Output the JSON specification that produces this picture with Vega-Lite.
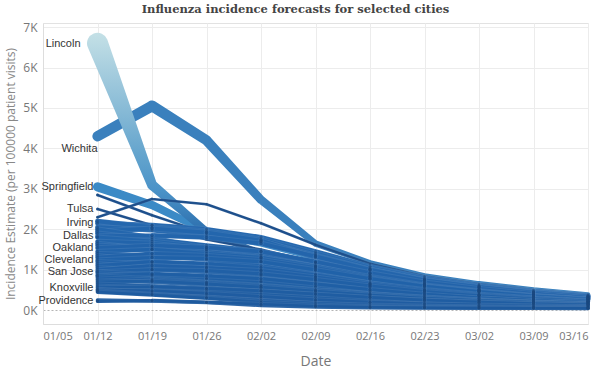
{
"$schema": "https://vega.github.io/schema/vega-lite/v6.json",
"width": 545, "height": 301,
"autosize": {"type": "none"},
"padding": {"left": 43, "top": 23, "right": 8, "bottom": 51},
"background": "white",
"title": {"text": "Influenza incidence forecasts for selected cities", "font": "DejaVu Serif", "fontSize": 11.5, "fontWeight": "bold", "color": "#444", "offset": 6, "dx": -20},
"config": {"view": {"stroke": "#e2e2e2"}},
"datasets": {"flu": [
{"city":"Lincoln","date":"2014-01-12","value":6600},{"city":"Lincoln","date":"2014-01-19","value":3100},{"city":"Lincoln","date":"2014-01-26","value":1950},{"city":"Lincoln","date":"2014-02-02","value":1400},{"city":"Lincoln","date":"2014-02-09","value":1000},{"city":"Lincoln","date":"2014-02-16","value":700},{"city":"Lincoln","date":"2014-02-23","value":500},{"city":"Lincoln","date":"2014-03-02","value":370},{"city":"Lincoln","date":"2014-03-09","value":280},{"city":"Lincoln","date":"2014-03-16","value":210},
{"city":"Wichita","date":"2014-01-12","value":4300},{"city":"Wichita","date":"2014-01-19","value":5050},{"city":"Wichita","date":"2014-01-26","value":4200},{"city":"Wichita","date":"2014-02-02","value":2730},{"city":"Wichita","date":"2014-02-09","value":1650},{"city":"Wichita","date":"2014-02-16","value":1170},{"city":"Wichita","date":"2014-02-23","value":850},{"city":"Wichita","date":"2014-03-02","value":660},{"city":"Wichita","date":"2014-03-09","value":510},{"city":"Wichita","date":"2014-03-16","value":390},
{"city":"Springfield","date":"2014-01-12","value":3050},{"city":"Springfield","date":"2014-01-19","value":2600},{"city":"Springfield","date":"2014-01-26","value":1950},{"city":"Springfield","date":"2014-02-02","value":1650},{"city":"Springfield","date":"2014-02-09","value":1300},{"city":"Springfield","date":"2014-02-16","value":980},{"city":"Springfield","date":"2014-02-23","value":720},{"city":"Springfield","date":"2014-03-02","value":550},{"city":"Springfield","date":"2014-03-09","value":420},{"city":"Springfield","date":"2014-03-16","value":320},
{"city":"Omaha","date":"2014-01-12","value":2850},{"city":"Omaha","date":"2014-01-19","value":2350},{"city":"Omaha","date":"2014-01-26","value":1900},{"city":"Omaha","date":"2014-02-02","value":1700},{"city":"Omaha","date":"2014-02-09","value":1380},{"city":"Omaha","date":"2014-02-16","value":1020},{"city":"Omaha","date":"2014-02-23","value":760},{"city":"Omaha","date":"2014-03-02","value":580},{"city":"Omaha","date":"2014-03-09","value":440},{"city":"Omaha","date":"2014-03-16","value":340},
{"city":"Kansas City","date":"2014-01-12","value":2300},{"city":"Kansas City","date":"2014-01-19","value":2750},{"city":"Kansas City","date":"2014-01-26","value":2620},{"city":"Kansas City","date":"2014-02-02","value":2150},{"city":"Kansas City","date":"2014-02-09","value":1620},{"city":"Kansas City","date":"2014-02-16","value":1150},{"city":"Kansas City","date":"2014-02-23","value":840},{"city":"Kansas City","date":"2014-03-02","value":650},{"city":"Kansas City","date":"2014-03-09","value":500},{"city":"Kansas City","date":"2014-03-16","value":380},
{"city":"Tulsa","date":"2014-01-12","value":2500},{"city":"Tulsa","date":"2014-01-19","value":2100},{"city":"Tulsa","date":"2014-01-26","value":1750},{"city":"Tulsa","date":"2014-02-02","value":1500},{"city":"Tulsa","date":"2014-02-09","value":1180},{"city":"Tulsa","date":"2014-02-16","value":900},{"city":"Tulsa","date":"2014-02-23","value":670},{"city":"Tulsa","date":"2014-03-02","value":510},{"city":"Tulsa","date":"2014-03-09","value":390},{"city":"Tulsa","date":"2014-03-16","value":300},
{"city":"Irving","date":"2014-01-12","value":2150},{"city":"Irving","date":"2014-01-19","value":2100},{"city":"Irving","date":"2014-01-26","value":2000},{"city":"Irving","date":"2014-02-02","value":1800},{"city":"Irving","date":"2014-02-09","value":1450},{"city":"Irving","date":"2014-02-16","value":1080},{"city":"Irving","date":"2014-02-23","value":800},{"city":"Irving","date":"2014-03-02","value":610},{"city":"Irving","date":"2014-03-09","value":470},{"city":"Irving","date":"2014-03-16","value":360},
{"city":"Austin","date":"2014-01-12","value":2200},{"city":"Austin","date":"2014-01-19","value":2050},{"city":"Austin","date":"2014-01-26","value":1950},{"city":"Austin","date":"2014-02-02","value":1750},{"city":"Austin","date":"2014-02-09","value":1400},{"city":"Austin","date":"2014-02-16","value":1050},{"city":"Austin","date":"2014-02-23","value":780},{"city":"Austin","date":"2014-03-02","value":600},{"city":"Austin","date":"2014-03-09","value":460},{"city":"Austin","date":"2014-03-16","value":350},
{"city":"Houston","date":"2014-01-12","value":2050},{"city":"Houston","date":"2014-01-19","value":1980},{"city":"Houston","date":"2014-01-26","value":1850},{"city":"Houston","date":"2014-02-02","value":1700},{"city":"Houston","date":"2014-02-09","value":1350},{"city":"Houston","date":"2014-02-16","value":1010},{"city":"Houston","date":"2014-02-23","value":750},{"city":"Houston","date":"2014-03-02","value":580},{"city":"Houston","date":"2014-03-09","value":445},{"city":"Houston","date":"2014-03-16","value":340},
{"city":"Fort Worth","date":"2014-01-12","value":1950},{"city":"Fort Worth","date":"2014-01-19","value":2020},{"city":"Fort Worth","date":"2014-01-26","value":1920},{"city":"Fort Worth","date":"2014-02-02","value":1720},{"city":"Fort Worth","date":"2014-02-09","value":1300},{"city":"Fort Worth","date":"2014-02-16","value":970},{"city":"Fort Worth","date":"2014-02-23","value":720},{"city":"Fort Worth","date":"2014-03-02","value":555},{"city":"Fort Worth","date":"2014-03-09","value":425},{"city":"Fort Worth","date":"2014-03-16","value":325},
{"city":"Oklahoma City","date":"2014-01-12","value":2000},{"city":"Oklahoma City","date":"2014-01-19","value":1800},{"city":"Oklahoma City","date":"2014-01-26","value":1500},{"city":"Oklahoma City","date":"2014-02-02","value":1300},{"city":"Oklahoma City","date":"2014-02-09","value":1050},{"city":"Oklahoma City","date":"2014-02-16","value":800},{"city":"Oklahoma City","date":"2014-02-23","value":600},{"city":"Oklahoma City","date":"2014-03-02","value":470},{"city":"Oklahoma City","date":"2014-03-09","value":360},{"city":"Oklahoma City","date":"2014-03-16","value":280},
{"city":"San Antonio","date":"2014-01-12","value":1900},{"city":"San Antonio","date":"2014-01-19","value":1750},{"city":"San Antonio","date":"2014-01-26","value":1600},{"city":"San Antonio","date":"2014-02-02","value":1450},{"city":"San Antonio","date":"2014-02-09","value":1180},{"city":"San Antonio","date":"2014-02-16","value":900},{"city":"San Antonio","date":"2014-02-23","value":670},{"city":"San Antonio","date":"2014-03-02","value":520},{"city":"San Antonio","date":"2014-03-09","value":400},{"city":"San Antonio","date":"2014-03-16","value":310},
{"city":"Dallas","date":"2014-01-12","value":1830},{"city":"Dallas","date":"2014-01-19","value":1850},{"city":"Dallas","date":"2014-01-26","value":1800},{"city":"Dallas","date":"2014-02-02","value":1650},{"city":"Dallas","date":"2014-02-09","value":1330},{"city":"Dallas","date":"2014-02-16","value":1000},{"city":"Dallas","date":"2014-02-23","value":740},{"city":"Dallas","date":"2014-03-02","value":570},{"city":"Dallas","date":"2014-03-09","value":435},{"city":"Dallas","date":"2014-03-16","value":335},
{"city":"Milwaukee","date":"2014-01-12","value":1800},{"city":"Milwaukee","date":"2014-01-19","value":1700},{"city":"Milwaukee","date":"2014-01-26","value":1550},{"city":"Milwaukee","date":"2014-02-02","value":1380},{"city":"Milwaukee","date":"2014-02-09","value":1120},{"city":"Milwaukee","date":"2014-02-16","value":860},{"city":"Milwaukee","date":"2014-02-23","value":645},{"city":"Milwaukee","date":"2014-03-02","value":500},{"city":"Milwaukee","date":"2014-03-09","value":385},{"city":"Milwaukee","date":"2014-03-16","value":300},
{"city":"El Paso","date":"2014-01-12","value":1700},{"city":"El Paso","date":"2014-01-19","value":1650},{"city":"El Paso","date":"2014-01-26","value":1500},{"city":"El Paso","date":"2014-02-02","value":1350},{"city":"El Paso","date":"2014-02-09","value":1100},{"city":"El Paso","date":"2014-02-16","value":850},{"city":"El Paso","date":"2014-02-23","value":640},{"city":"El Paso","date":"2014-03-02","value":495},{"city":"El Paso","date":"2014-03-09","value":380},{"city":"El Paso","date":"2014-03-16","value":295},
{"city":"Denver","date":"2014-01-12","value":1650},{"city":"Denver","date":"2014-01-19","value":1500},{"city":"Denver","date":"2014-01-26","value":1350},{"city":"Denver","date":"2014-02-02","value":1200},{"city":"Denver","date":"2014-02-09","value":980},{"city":"Denver","date":"2014-02-16","value":760},{"city":"Denver","date":"2014-02-23","value":580},{"city":"Denver","date":"2014-03-02","value":450},{"city":"Denver","date":"2014-03-09","value":345},{"city":"Denver","date":"2014-03-16","value":270},
{"city":"Minneapolis","date":"2014-01-12","value":1600},{"city":"Minneapolis","date":"2014-01-19","value":1550},{"city":"Minneapolis","date":"2014-01-26","value":1450},{"city":"Minneapolis","date":"2014-02-02","value":1300},{"city":"Minneapolis","date":"2014-02-09","value":1080},{"city":"Minneapolis","date":"2014-02-16","value":840},{"city":"Minneapolis","date":"2014-02-23","value":630},{"city":"Minneapolis","date":"2014-03-02","value":485},{"city":"Minneapolis","date":"2014-03-09","value":370},{"city":"Minneapolis","date":"2014-03-16","value":285},
{"city":"Oakland","date":"2014-01-12","value":1540},{"city":"Oakland","date":"2014-01-19","value":1600},{"city":"Oakland","date":"2014-01-26","value":1550},{"city":"Oakland","date":"2014-02-02","value":1450},{"city":"Oakland","date":"2014-02-09","value":1200},{"city":"Oakland","date":"2014-02-16","value":920},{"city":"Oakland","date":"2014-02-23","value":690},{"city":"Oakland","date":"2014-03-02","value":530},{"city":"Oakland","date":"2014-03-09","value":405},{"city":"Oakland","date":"2014-03-16","value":310},
{"city":"Memphis","date":"2014-01-12","value":1450},{"city":"Memphis","date":"2014-01-19","value":1500},{"city":"Memphis","date":"2014-01-26","value":1400},{"city":"Memphis","date":"2014-02-02","value":1300},{"city":"Memphis","date":"2014-02-09","value":1080},{"city":"Memphis","date":"2014-02-16","value":830},{"city":"Memphis","date":"2014-02-23","value":620},{"city":"Memphis","date":"2014-03-02","value":480},{"city":"Memphis","date":"2014-03-09","value":365},{"city":"Memphis","date":"2014-03-16","value":280},
{"city":"Nashville","date":"2014-01-12","value":1400},{"city":"Nashville","date":"2014-01-19","value":1350},{"city":"Nashville","date":"2014-01-26","value":1250},{"city":"Nashville","date":"2014-02-02","value":1100},{"city":"Nashville","date":"2014-02-09","value":900},{"city":"Nashville","date":"2014-02-16","value":700},{"city":"Nashville","date":"2014-02-23","value":530},{"city":"Nashville","date":"2014-03-02","value":410},{"city":"Nashville","date":"2014-03-09","value":315},{"city":"Nashville","date":"2014-03-16","value":245},
{"city":"Louisville","date":"2014-01-12","value":1350},{"city":"Louisville","date":"2014-01-19","value":1200},{"city":"Louisville","date":"2014-01-26","value":1100},{"city":"Louisville","date":"2014-02-02","value":1000},{"city":"Louisville","date":"2014-02-09","value":830},{"city":"Louisville","date":"2014-02-16","value":650},{"city":"Louisville","date":"2014-02-23","value":500},{"city":"Louisville","date":"2014-03-02","value":385},{"city":"Louisville","date":"2014-03-09","value":295},{"city":"Louisville","date":"2014-03-16","value":230},
{"city":"Columbus","date":"2014-01-12","value":1300},{"city":"Columbus","date":"2014-01-19","value":1400},{"city":"Columbus","date":"2014-01-26","value":1350},{"city":"Columbus","date":"2014-02-02","value":1250},{"city":"Columbus","date":"2014-02-09","value":1050},{"city":"Columbus","date":"2014-02-16","value":800},{"city":"Columbus","date":"2014-02-23","value":600},{"city":"Columbus","date":"2014-03-02","value":460},{"city":"Columbus","date":"2014-03-09","value":350},{"city":"Columbus","date":"2014-03-16","value":270},
{"city":"Cleveland","date":"2014-01-12","value":1240},{"city":"Cleveland","date":"2014-01-19","value":1300},{"city":"Cleveland","date":"2014-01-26","value":1280},{"city":"Cleveland","date":"2014-02-02","value":1200},{"city":"Cleveland","date":"2014-02-09","value":1000},{"city":"Cleveland","date":"2014-02-16","value":780},{"city":"Cleveland","date":"2014-02-23","value":590},{"city":"Cleveland","date":"2014-03-02","value":455},{"city":"Cleveland","date":"2014-03-09","value":345},{"city":"Cleveland","date":"2014-03-16","value":265},
{"city":"Cincinnati","date":"2014-01-12","value":1200},{"city":"Cincinnati","date":"2014-01-19","value":1150},{"city":"Cincinnati","date":"2014-01-26","value":1050},{"city":"Cincinnati","date":"2014-02-02","value":950},{"city":"Cincinnati","date":"2014-02-09","value":800},{"city":"Cincinnati","date":"2014-02-16","value":630},{"city":"Cincinnati","date":"2014-02-23","value":480},{"city":"Cincinnati","date":"2014-03-02","value":370},{"city":"Cincinnati","date":"2014-03-09","value":285},{"city":"Cincinnati","date":"2014-03-16","value":225},
{"city":"St. Louis","date":"2014-01-12","value":1150},{"city":"St. Louis","date":"2014-01-19","value":1050},{"city":"St. Louis","date":"2014-01-26","value":950},{"city":"St. Louis","date":"2014-02-02","value":850},{"city":"St. Louis","date":"2014-02-09","value":700},{"city":"St. Louis","date":"2014-02-16","value":560},{"city":"St. Louis","date":"2014-02-23","value":430},{"city":"St. Louis","date":"2014-03-02","value":335},{"city":"St. Louis","date":"2014-03-09","value":260},{"city":"St. Louis","date":"2014-03-16","value":205},
{"city":"Detroit","date":"2014-01-12","value":1100},{"city":"Detroit","date":"2014-01-19","value":1200},{"city":"Detroit","date":"2014-01-26","value":1150},{"city":"Detroit","date":"2014-02-02","value":1050},{"city":"Detroit","date":"2014-02-09","value":870},{"city":"Detroit","date":"2014-02-16","value":670},{"city":"Detroit","date":"2014-02-23","value":510},{"city":"Detroit","date":"2014-03-02","value":395},{"city":"Detroit","date":"2014-03-09","value":305},{"city":"Detroit","date":"2014-03-16","value":235},
{"city":"Chicago","date":"2014-01-12","value":1050},{"city":"Chicago","date":"2014-01-19","value":1000},{"city":"Chicago","date":"2014-01-26","value":950},{"city":"Chicago","date":"2014-02-02","value":880},{"city":"Chicago","date":"2014-02-09","value":740},{"city":"Chicago","date":"2014-02-16","value":590},{"city":"Chicago","date":"2014-02-23","value":455},{"city":"Chicago","date":"2014-03-02","value":350},{"city":"Chicago","date":"2014-03-09","value":270},{"city":"Chicago","date":"2014-03-16","value":210},
{"city":"Indianapolis","date":"2014-01-12","value":1000},{"city":"Indianapolis","date":"2014-01-19","value":1100},{"city":"Indianapolis","date":"2014-01-26","value":1050},{"city":"Indianapolis","date":"2014-02-02","value":980},{"city":"Indianapolis","date":"2014-02-09","value":820},{"city":"Indianapolis","date":"2014-02-16","value":640},{"city":"Indianapolis","date":"2014-02-23","value":490},{"city":"Indianapolis","date":"2014-03-02","value":375},{"city":"Indianapolis","date":"2014-03-09","value":290},{"city":"Indianapolis","date":"2014-03-16","value":225},
{"city":"San Jose","date":"2014-01-12","value":950},{"city":"San Jose","date":"2014-01-19","value":1000},{"city":"San Jose","date":"2014-01-26","value":980},{"city":"San Jose","date":"2014-02-02","value":900},{"city":"San Jose","date":"2014-02-09","value":760},{"city":"San Jose","date":"2014-02-16","value":600},{"city":"San Jose","date":"2014-02-23","value":460},{"city":"San Jose","date":"2014-03-02","value":355},{"city":"San Jose","date":"2014-03-09","value":275},{"city":"San Jose","date":"2014-03-16","value":215},
{"city":"Pittsburgh","date":"2014-01-12","value":950},{"city":"Pittsburgh","date":"2014-01-19","value":880},{"city":"Pittsburgh","date":"2014-01-26","value":800},{"city":"Pittsburgh","date":"2014-02-02","value":720},{"city":"Pittsburgh","date":"2014-02-09","value":600},{"city":"Pittsburgh","date":"2014-02-16","value":480},{"city":"Pittsburgh","date":"2014-02-23","value":375},{"city":"Pittsburgh","date":"2014-03-02","value":295},{"city":"Pittsburgh","date":"2014-03-09","value":230},{"city":"Pittsburgh","date":"2014-03-16","value":185},
{"city":"Atlanta","date":"2014-01-12","value":900},{"city":"Atlanta","date":"2014-01-19","value":850},{"city":"Atlanta","date":"2014-01-26","value":780},{"city":"Atlanta","date":"2014-02-02","value":700},{"city":"Atlanta","date":"2014-02-09","value":580},{"city":"Atlanta","date":"2014-02-16","value":460},{"city":"Atlanta","date":"2014-02-23","value":360},{"city":"Atlanta","date":"2014-03-02","value":285},{"city":"Atlanta","date":"2014-03-09","value":225},{"city":"Atlanta","date":"2014-03-16","value":180},
{"city":"Charlotte","date":"2014-01-12","value":850},{"city":"Charlotte","date":"2014-01-19","value":900},{"city":"Charlotte","date":"2014-01-26","value":850},{"city":"Charlotte","date":"2014-02-02","value":780},{"city":"Charlotte","date":"2014-02-09","value":650},{"city":"Charlotte","date":"2014-02-16","value":510},{"city":"Charlotte","date":"2014-02-23","value":395},{"city":"Charlotte","date":"2014-03-02","value":305},{"city":"Charlotte","date":"2014-03-09","value":240},{"city":"Charlotte","date":"2014-03-16","value":190},
{"city":"Birmingham","date":"2014-01-12","value":850},{"city":"Birmingham","date":"2014-01-19","value":780},{"city":"Birmingham","date":"2014-01-26","value":700},{"city":"Birmingham","date":"2014-02-02","value":620},{"city":"Birmingham","date":"2014-02-09","value":510},{"city":"Birmingham","date":"2014-02-16","value":410},{"city":"Birmingham","date":"2014-02-23","value":325},{"city":"Birmingham","date":"2014-03-02","value":260},{"city":"Birmingham","date":"2014-03-09","value":205},{"city":"Birmingham","date":"2014-03-16","value":165},
{"city":"Phoenix","date":"2014-01-12","value":800},{"city":"Phoenix","date":"2014-01-19","value":750},{"city":"Phoenix","date":"2014-01-26","value":680},{"city":"Phoenix","date":"2014-02-02","value":600},{"city":"Phoenix","date":"2014-02-09","value":500},{"city":"Phoenix","date":"2014-02-16","value":400},{"city":"Phoenix","date":"2014-02-23","value":315},{"city":"Phoenix","date":"2014-03-02","value":250},{"city":"Phoenix","date":"2014-03-09","value":200},{"city":"Phoenix","date":"2014-03-16","value":160},
{"city":"Tucson","date":"2014-01-12","value":750},{"city":"Tucson","date":"2014-01-19","value":700},{"city":"Tucson","date":"2014-01-26","value":620},{"city":"Tucson","date":"2014-02-02","value":540},{"city":"Tucson","date":"2014-02-09","value":450},{"city":"Tucson","date":"2014-02-16","value":360},{"city":"Tucson","date":"2014-02-23","value":285},{"city":"Tucson","date":"2014-03-02","value":230},{"city":"Tucson","date":"2014-03-09","value":185},{"city":"Tucson","date":"2014-03-16","value":150},
{"city":"Albuquerque","date":"2014-01-12","value":700},{"city":"Albuquerque","date":"2014-01-19","value":720},{"city":"Albuquerque","date":"2014-01-26","value":650},{"city":"Albuquerque","date":"2014-02-02","value":570},{"city":"Albuquerque","date":"2014-02-09","value":470},{"city":"Albuquerque","date":"2014-02-16","value":375},{"city":"Albuquerque","date":"2014-02-23","value":295},{"city":"Albuquerque","date":"2014-03-02","value":235},{"city":"Albuquerque","date":"2014-03-09","value":190},{"city":"Albuquerque","date":"2014-03-16","value":155},
{"city":"Baltimore","date":"2014-01-12","value":650},{"city":"Baltimore","date":"2014-01-19","value":600},{"city":"Baltimore","date":"2014-01-26","value":540},{"city":"Baltimore","date":"2014-02-02","value":470},{"city":"Baltimore","date":"2014-02-09","value":390},{"city":"Baltimore","date":"2014-02-16","value":310},{"city":"Baltimore","date":"2014-02-23","value":250},{"city":"Baltimore","date":"2014-03-02","value":200},{"city":"Baltimore","date":"2014-03-09","value":165},{"city":"Baltimore","date":"2014-03-16","value":135},
{"city":"Philadelphia","date":"2014-01-12","value":600},{"city":"Philadelphia","date":"2014-01-19","value":550},{"city":"Philadelphia","date":"2014-01-26","value":480},{"city":"Philadelphia","date":"2014-02-02","value":400},{"city":"Philadelphia","date":"2014-02-09","value":320},{"city":"Philadelphia","date":"2014-02-16","value":255},{"city":"Philadelphia","date":"2014-02-23","value":205},{"city":"Philadelphia","date":"2014-03-02","value":170},{"city":"Philadelphia","date":"2014-03-09","value":140},{"city":"Philadelphia","date":"2014-03-16","value":120},
{"city":"Knoxville","date":"2014-01-12","value":560},{"city":"Knoxville","date":"2014-01-19","value":580},{"city":"Knoxville","date":"2014-01-26","value":540},{"city":"Knoxville","date":"2014-02-02","value":480},{"city":"Knoxville","date":"2014-02-09","value":400},{"city":"Knoxville","date":"2014-02-16","value":320},{"city":"Knoxville","date":"2014-02-23","value":250},{"city":"Knoxville","date":"2014-03-02","value":200},{"city":"Knoxville","date":"2014-03-09","value":160},{"city":"Knoxville","date":"2014-03-16","value":130},
{"city":"New York","date":"2014-01-12","value":520},{"city":"New York","date":"2014-01-19","value":450},{"city":"New York","date":"2014-01-26","value":380},{"city":"New York","date":"2014-02-02","value":300},{"city":"New York","date":"2014-02-09","value":230},{"city":"New York","date":"2014-02-16","value":180},{"city":"New York","date":"2014-02-23","value":145},{"city":"New York","date":"2014-03-02","value":120},{"city":"New York","date":"2014-03-09","value":100},{"city":"New York","date":"2014-03-16","value":90},
{"city":"Boston","date":"2014-01-12","value":500},{"city":"Boston","date":"2014-01-19","value":480},{"city":"Boston","date":"2014-01-26","value":420},{"city":"Boston","date":"2014-02-02","value":340},{"city":"Boston","date":"2014-02-09","value":260},{"city":"Boston","date":"2014-02-16","value":200},{"city":"Boston","date":"2014-02-23","value":160},{"city":"Boston","date":"2014-03-02","value":130},{"city":"Boston","date":"2014-03-09","value":110},{"city":"Boston","date":"2014-03-16","value":95},
{"city":"Seattle","date":"2014-01-12","value":480},{"city":"Seattle","date":"2014-01-19","value":400},{"city":"Seattle","date":"2014-01-26","value":320},{"city":"Seattle","date":"2014-02-02","value":240},{"city":"Seattle","date":"2014-02-09","value":170},{"city":"Seattle","date":"2014-02-16","value":130},{"city":"Seattle","date":"2014-02-23","value":105},{"city":"Seattle","date":"2014-03-02","value":90},{"city":"Seattle","date":"2014-03-09","value":80},{"city":"Seattle","date":"2014-03-16","value":70},
{"city":"Portland","date":"2014-01-12","value":450},{"city":"Portland","date":"2014-01-19","value":380},{"city":"Portland","date":"2014-01-26","value":300},{"city":"Portland","date":"2014-02-02","value":200},{"city":"Portland","date":"2014-02-09","value":130},{"city":"Portland","date":"2014-02-16","value":95},{"city":"Portland","date":"2014-02-23","value":80},{"city":"Portland","date":"2014-03-02","value":70},{"city":"Portland","date":"2014-03-09","value":62},{"city":"Portland","date":"2014-03-16","value":58},
{"city":"Hartford","date":"2014-01-12","value":250},{"city":"Hartford","date":"2014-01-19","value":230},{"city":"Hartford","date":"2014-01-26","value":190},{"city":"Hartford","date":"2014-02-02","value":120},{"city":"Hartford","date":"2014-02-09","value":80},{"city":"Hartford","date":"2014-02-16","value":62},{"city":"Hartford","date":"2014-02-23","value":55},{"city":"Hartford","date":"2014-03-02","value":50},{"city":"Hartford","date":"2014-03-09","value":48},{"city":"Hartford","date":"2014-03-16","value":46},
{"city":"Providence","date":"2014-01-12","value":220},{"city":"Providence","date":"2014-01-19","value":240},{"city":"Providence","date":"2014-01-26","value":200},{"city":"Providence","date":"2014-02-02","value":150},{"city":"Providence","date":"2014-02-09","value":100},{"city":"Providence","date":"2014-02-16","value":75},{"city":"Providence","date":"2014-02-23","value":62},{"city":"Providence","date":"2014-03-02","value":55},{"city":"Providence","date":"2014-03-09","value":52},{"city":"Providence","date":"2014-03-16","value":50}
]},
"data": {"name": "flu"},
"transform": [{"joinaggregate": [{"op": "max", "field": "value", "as": "peak"}], "groupby": ["city"]}],
"encoding": {
  "x": {"field": "date", "type": "temporal",
    "scale": {"type": "utc", "domain": [{"year": 2014, "month": 1, "date": 5, "utc": true}, {"year": 2014, "month": 3, "date": 16, "utc": true}]},
    "axis": {"title": "Date", "labelExpr": "utcFormat(datum.value, '%m/%d')",
      "values": [{"year":2014,"month":1,"date":5,"utc":true},{"year":2014,"month":1,"date":12,"utc":true},{"year":2014,"month":1,"date":19,"utc":true},{"year":2014,"month":1,"date":26,"utc":true},{"year":2014,"month":2,"date":2,"utc":true},{"year":2014,"month":2,"date":9,"utc":true},{"year":2014,"month":2,"date":16,"utc":true},{"year":2014,"month":2,"date":23,"utc":true},{"year":2014,"month":3,"date":2,"utc":true},{"year":2014,"month":3,"date":9,"utc":true},{"year":2014,"month":3,"date":16,"utc":true}],
      "labelFlush": true, "labelOverlap": false, "grid": true, "gridColor": "#ececec", "ticks": false, "domainColor": "#dddddd",
      "labelColor": "#777777", "labelFont": "Open Sans", "labelFontSize": 11, "labelPadding": 6,
      "titleFont": "Open Sans", "titleFontSize": 14, "titleColor": "#777777", "titleFontWeight": "normal", "titlePadding": 13}},
  "y": {"field": "value", "type": "quantitative",
    "scale": {"domain": [-340, 7100], "nice": false, "zero": false},
    "axis": {"title": "Incidence Estimate (per 100000 patient visits)", "values": [0,1000,2000,3000,4000,5000,6000,7000],
      "labelExpr": "datum.value/1000 + 'K'", "grid": true,
      "gridColor": {"condition": {"test": "datum.value === 0", "value": "#b5b5b5"}, "value": "#ececec"},
      "gridDash": {"condition": {"test": "datum.value === 0", "value": [2, 2]}, "value": []},
      "ticks": false, "domainColor": "#dddddd",
      "labelColor": "#777777", "labelFont": "Open Sans", "labelFontSize": 12, "labelPadding": 6,
      "titleFont": "Open Sans", "titleFontSize": 12, "titleColor": "#888888", "titleFontWeight": "normal", "titlePadding": 5}}
},
"layer": [
  {"transform": [{"filter": "datum.city === 'Wichita' || datum.city === 'Springfield'"}],
   "mark": {"type": "trail"},
   "encoding": {"detail": {"field": "city"},
     "size": {"field": "value", "type": "quantitative", "scale": {"domain": [0, 1500, 3000, 5100], "range": [4, 6, 9, 11]}, "legend": null},
     "color": {"field": "city", "type": "nominal", "scale": {"domain": ["Wichita", "Springfield"], "range": ["#3a80bd", "#3b8ac6"]}, "legend": null}}},
  {"transform": [{"filter": "datum.city === 'Lincoln'"}],
   "mark": {"type": "trail", "fill": {"gradient": "linear", "x1": 0, "y1": 0, "x2": 0, "y2": 1, "stops": [{"offset": 0, "color": "#c4e0e6"}, {"offset": 0.25, "color": "#8fbfd8"}, {"offset": 0.45, "color": "#64a4cd"}, {"offset": 0.58, "color": "#4b93c8"}, {"offset": 0.72, "color": "#2f72b0"}, {"offset": 0.85, "color": "#215fa0"}, {"offset": 1, "color": "#1d5596"}]}},
   "encoding": {
     "size": {"field": "value", "type": "quantitative", "scale": {"domain": [0, 1500, 3100, 6600], "range": [4, 6, 10, 21]}, "legend": null}}},
  {"transform": [{"filter": "indexof(['Lincoln','Wichita','Springfield'], datum.city) < 0"}],
   "mark": {"type": "trail", "stroke": "#ffffff", "strokeWidth": 0.5, "strokeOpacity": 0.16},
   "encoding": {"detail": {"field": "city"},
     "size": {"field": "peak", "type": "quantitative", "scale": {"domain": [200, 2200, 2300, 3000], "range": [3.5, 5, 2.6, 2.6]}, "legend": null},
     "color": {"field": "peak", "type": "quantitative", "scale": {"domain": [200, 1200, 2200, 2300, 3000], "range": ["#1e5a9e", "#2061a8", "#2467ae", "#1d4f8c", "#1d4f8c"]}, "legend": null}}},
  {"transform": [{"filter": "indexof(['Lincoln','Wichita','Springfield'], datum.city) < 0"}],
   "mark": {"type": "circle", "size": 9, "opacity": 0.6, "color": "#1b4a80"}},
  {"transform": [{"window": [{"op": "rank", "as": "rk"}], "sort": [{"field": "date"}], "groupby": ["city"]},
                 {"filter": "datum.rk === 1 && indexof(['Springfield','Tulsa','Irving','Dallas','Oakland','Cleveland','San Jose','Knoxville','Providence'], datum.city) >= 0"}],
   "mark": {"type": "text", "align": "right", "baseline": "middle", "dx": -4, "font": "Liberation Sans", "fontSize": 11, "color": "#333333"},
   "encoding": {"text": {"field": "city"}}},
  {"transform": [{"window": [{"op": "rank", "as": "rk"}], "sort": [{"field": "date"}], "groupby": ["city"]},
                 {"filter": "datum.rk === 1 && datum.city === 'Wichita'"}],
   "mark": {"type": "text", "align": "right", "baseline": "middle", "dx": 0, "dy": 13, "font": "Liberation Sans", "fontSize": 11, "color": "#333333"},
   "encoding": {"text": {"field": "city"}}},
  {"transform": [{"window": [{"op": "rank", "as": "rk"}], "sort": [{"field": "date"}], "groupby": ["city"]},
                 {"filter": "datum.rk === 1 && datum.city === 'Lincoln'"}],
   "mark": {"type": "text", "align": "right", "baseline": "middle", "dx": -17, "dy": 1, "font": "Liberation Sans", "fontSize": 11, "color": "#333333"},
   "encoding": {"text": {"field": "city"}}}
],
"resolve": {"scale": {"size": "independent", "color": "independent"}}
}
